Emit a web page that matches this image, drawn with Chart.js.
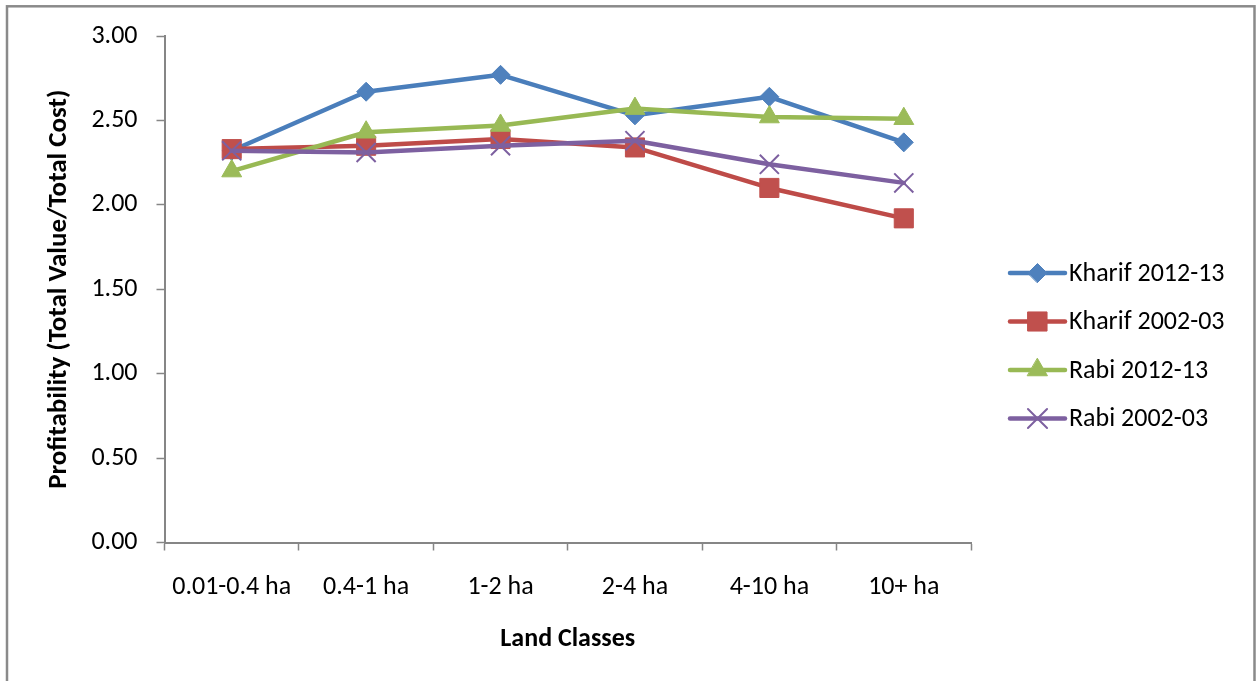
<!DOCTYPE html>
<html>
<head>
<meta charset="utf-8">
<title>Profitability by Land Class</title>
<script src="https://cdn.jsdelivr.net/npm/chart.js@4/dist/chart.umd.min.js"></script>
<style>
  html, body { margin: 0; padding: 0; background: #ffffff; }
  #wrap { position: relative; width: 1259px; height: 681px; }
  canvas { display: block; }
</style>
</head>
<body>
<div id="wrap"><canvas id="chart" width="1259" height="681"></canvas></div>
<script>
// Land size classes on the x axis
const landClasses = ['0.01-0.4 ha', '0.4-1 ha', '1-2 ha', '2-4 ha', '4-10 ha', '10+ ha'];

// Profitability ratio (total value / total cost) per land class
const kharif2012 = [2.32, 2.67, 2.77, 2.53, 2.64, 2.37];
const kharif2002 = [2.33, 2.35, 2.39, 2.34, 2.10, 1.92];
const rabi2012   = [2.20, 2.43, 2.47, 2.57, 2.52, 2.51];
const rabi2002   = [2.32, 2.31, 2.35, 2.38, 2.24, 2.13];

// Series names
const seriesNames = ['Kharif 2012-13', 'Kharif 2002-03', 'Rabi 2012-13', 'Rabi 2002-03'];

// Y axis range and step
const yMin = 0, yMax = 3, yStep = 0.5;

const FONT = "Carlito, Calibri, Lato, sans-serif";
const AXIS_GREY = '#868686';

const series = [
  { data: kharif2012, line: '#4A7EBB', fill: '#4F81BD', style: 'rectRot', radius: 9.5, bw: 1 },
  { data: kharif2002, line: '#BE4B48', fill: '#C0504D', style: 'rect', radius: 13.5, bw: 1 },
  { data: rabi2012,   line: '#98B954', fill: '#9BBB59', style: 'triangle', radius: 11.5, bw: 1 },
  { data: rabi2002,   line: '#7D60A0', fill: '#8064A2', style: 'crossRot', radius: 13.5, bw: 2 }
];

const datasets = series.map((s, i) => ({
  label: seriesNames[i],
  data: s.data,
  borderColor: s.line,
  backgroundColor: s.fill,
  borderWidth: 4.5,
  pointStyle: s.style,
  pointRadius: s.radius,
  pointHoverRadius: s.radius,
  pointBackgroundColor: s.fill,
  pointBorderColor: s.style === 'crossRot' ? s.line : s.fill,
  pointBorderWidth: s.bw,
  tension: 0,
  borderCapStyle: 'round',
  borderJoinStyle: 'round',
  order: series.length - i
}));

// Outer frame around the whole chart
const framePlugin = {
  id: 'frame',
  beforeDraw(chart) {
    const ctx = chart.ctx;
    ctx.save();
    ctx.fillStyle = '#ffffff';
    ctx.fillRect(0, 0, chart.width, chart.height);
    ctx.strokeStyle = '#8a8a8a';
    ctx.lineWidth = 2.5;
    ctx.strokeRect(7, 6.3, 1247.5, 720);
    ctx.restore();
  }
};

// Legend drawn as line + marker samples, stacked on the right
const sideLegend = {
  id: 'sideLegend',
  afterDraw(chart) {
    const ctx = chart.ctx;
    const x0 = 1010, x1 = 1065, textX = 1069, top = 273, gap = 48.5;
    ctx.save();
    chart.data.datasets.forEach((ds, i) => {
      const y = top + i * gap;
      ctx.beginPath();
      ctx.strokeStyle = ds.borderColor;
      ctx.lineWidth = 4.5;
      ctx.lineCap = 'round';
      ctx.moveTo(x0, y);
      ctx.lineTo(x1, y);
      ctx.stroke();
      ctx.fillStyle = ds.pointBackgroundColor;
      ctx.strokeStyle = ds.pointBorderColor;
      ctx.lineWidth = ds.pointBorderWidth;
      Chart.helpers.drawPoint(ctx, {
        pointStyle: ds.pointStyle,
        radius: ds.pointRadius,
        rotation: 0,
        borderWidth: ds.pointBorderWidth
      }, (x0 + x1) / 2, y);
      ctx.fillStyle = '#000000';
      ctx.font = '26px ' + FONT;
      ctx.textAlign = 'left';
      ctx.textBaseline = 'middle';
      ctx.fillText(ds.label, textX, y + 1);
    });
    ctx.restore();
  }
};

new Chart(document.getElementById('chart'), {
  type: 'line',
  data: { labels: landClasses, datasets },
  plugins: [framePlugin, sideLegend],
  options: {
    responsive: false,
    animation: false,
    devicePixelRatio: 1,
    layout: { padding: { left: 0, top: 36, right: 288, bottom: 0 } },
    plugins: { legend: { display: false }, tooltip: { enabled: false } },
    scales: {
      x: {
        type: 'category',
        offset: true,
        afterFit(scale) { scale.height = 138.5; },
        grid: {
          offset: true,
          drawOnChartArea: false,
          drawTicks: true,
          tickLength: 8,
          tickColor: AXIS_GREY,
          tickWidth: 1.5
        },
        border: { display: true, color: AXIS_GREY, width: 2 },
        ticks: {
          color: '#000000',
          font: { family: FONT, size: 26 },
          padding: 21,
          maxRotation: 0,
          autoSkip: false
        },
        title: {
          display: true,
          text: 'Land Classes',
          color: '#000000',
          font: { family: FONT, size: 26, weight: 'bold' },
          padding: { top: 0, bottom: 25.5 }
        }
      },
      y: {
        min: yMin,
        max: yMax,
        afterFit(scale) { scale.width = 164.5; },
        grid: {
          drawOnChartArea: false,
          drawTicks: true,
          tickLength: 8,
          tickColor: AXIS_GREY,
          tickWidth: 1.5
        },
        border: { display: true, color: AXIS_GREY, width: 2 },
        ticks: {
          stepSize: yStep,
          color: '#000000',
          font: { family: FONT, size: 26 },
          padding: 19,
          callback: v => Number(v).toFixed(2)
        },
        title: {
          display: true,
          text: 'Profitability (Total Value/Total Cost)',
          color: '#000000',
          font: { family: FONT, size: 27, weight: 'bold' },
          padding: { top: 43.5, bottom: 0 }
        }
      }
    }
  }
});
</script>
</body>
</html>
